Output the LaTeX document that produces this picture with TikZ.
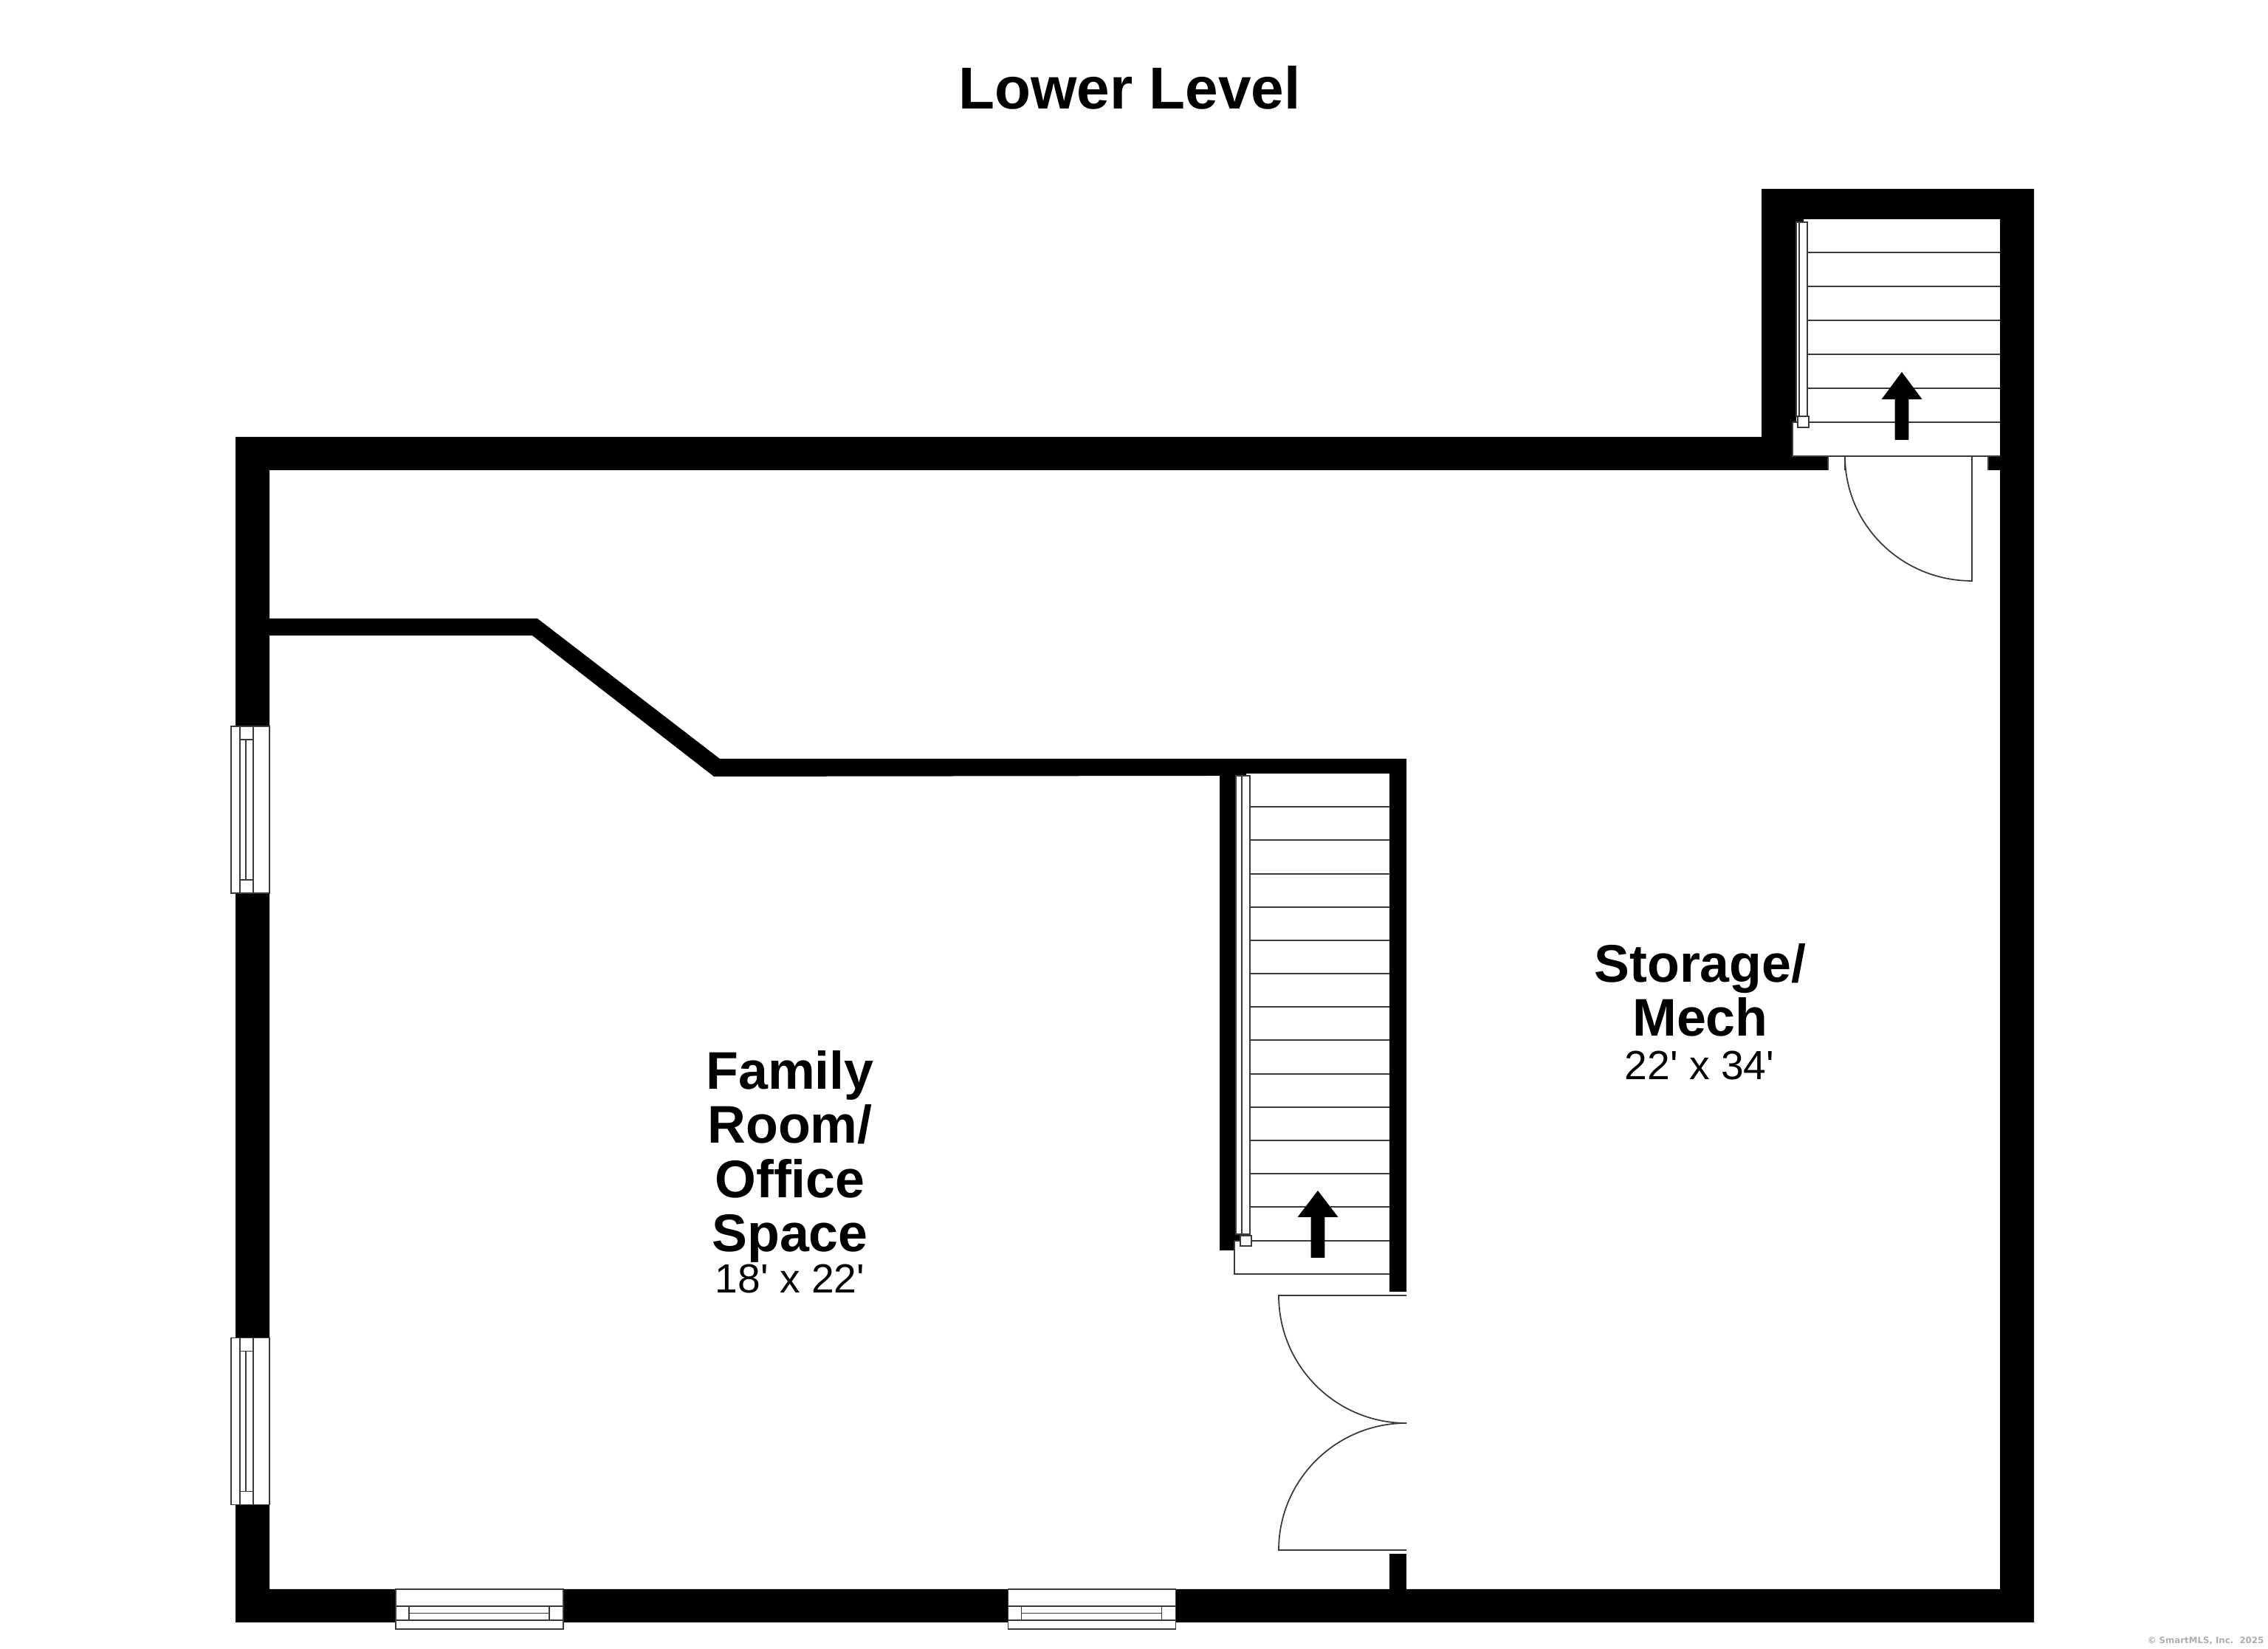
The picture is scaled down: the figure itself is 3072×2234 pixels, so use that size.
\documentclass[tikz,border=0pt]{standalone}
\usepackage{fontspec}
\setmainfont{Liberation Sans}
\newfontfamily\markfont{DejaVu Sans}
\usepackage{xcolor}
\usepackage{tikz}
\definecolor{thin}{HTML}{3A3A3A}
\definecolor{mark}{HTML}{ADADAD}
\tikzset{
  wall/.style={fill=black},
  thinline/.style={draw=thin, line width=0.5pt},
  paneline/.style={draw=thin, line width=0.5pt, fill=white},
  titlelab/.style={font=\bfseries\fontsize{22.8}{28}\selectfont},
  roomlab/.style={font=\bfseries\fontsize{20.4}{20.8}\selectfont, align=center},
  sizelab/.style={font=\fontsize{15.7}{18}\selectfont},
  marklab/.style={font=\markfont\bfseries\fontsize{3.35}{5}\selectfont, text=mark, anchor=east, inner sep=0pt},
}

\begin{document}
\begin{tikzpicture}[x=0.01cm,y=0.01cm]
\useasboundingbox (0,0) rectangle (3072,2234);
% outer walls
\fill[wall,even odd rule] (319,1642) -- (2386,1642) -- (2386,1978) -- (2755,1978) -- (2755,36) -- (319,36) -- cycle
  (365,1597) -- (2709,1597) -- (2709,81) -- (365,81) -- cycle
  (2443,1937) -- (2709,1937) -- (2709,1616) -- (2428,1616) -- (2428,1662) -- (2433,1662) -- (2433,1933) -- (2443,1933) -- cycle;
% inner walls
\fill[wall] (365,1396) -- (728,1396) -- (975,1206) -- (1905,1206) -- (1905,484) -- (1882,484) -- (1882,1186)
  -- (1688,1186) -- (1688,1183) -- (1674,1183) -- (1674,563) -- (1680,563) -- (1680,553) -- (1672,553) -- (1672,540)
  -- (1652,540) -- (1652,1183) -- (967,1182) -- (721,1373) -- (365,1373) -- cycle;
\fill[wall] (1882,129) rectangle (1905,81);

% lower stairs
\draw[thinline] (1693,1141) -- (1882,1141);
\draw[thinline] (1693,1096) -- (1882,1096);
\draw[thinline] (1693,1050) -- (1882,1050);
\draw[thinline] (1693,1005) -- (1882,1005);
\draw[thinline] (1693,960) -- (1882,960);
\draw[thinline] (1693,915) -- (1882,915);
\draw[thinline] (1693,870) -- (1882,870);
\draw[thinline] (1693,825) -- (1882,825);
\draw[thinline] (1693,779) -- (1882,779);
\draw[thinline] (1693,734) -- (1882,734);
\draw[thinline] (1693,689) -- (1882,689);
\draw[thinline] (1693,644) -- (1882,644);
\draw[thinline] (1693,599) -- (1882,599);
\draw[thinline] (1672,553) -- (1882,553);
\draw[thinline] (1672,553) -- (1672,508) -- (1882,508);
\draw[paneline] (1674,1183) rectangle (1693,562);
\draw[thinline] (1682,1183) -- (1682,562);
\draw[paneline] (1680,560) rectangle (1695,546);
\fill[wall] (1785,621) -- (1812.5,585) -- (1794.3,585) -- (1794.3,530) -- (1775.7,530) -- (1775.7,585) -- (1757.5,585) -- cycle;

% upper stairs
\draw[thinline] (2448,1892) -- (2709,1892);
\draw[thinline] (2448,1846) -- (2709,1846);
\draw[thinline] (2448,1800) -- (2709,1800);
\draw[thinline] (2448,1754) -- (2709,1754);
\draw[thinline] (2448,1708) -- (2709,1708);
\draw[thinline] (2428,1662) -- (2709,1662);
\draw[thinline] (2428,1662) -- (2428,1616) -- (2709,1616);
\draw[paneline] (2433,1933) rectangle (2448,1670);
\draw[thinline] (2437,1933) -- (2437,1670);
\draw[paneline] (2435,1670) rectangle (2450,1655);
\fill[wall] (2576,1730) -- (2603.5,1693) -- (2585.3,1693) -- (2585.3,1638) -- (2566.7,1638) -- (2566.7,1693) -- (2548.5,1693) -- cycle;

% upper door
\fill[white] (2476,1597) rectangle (2693,1616);
\draw[thinline] (2476,1597) -- (2476,1616) -- (2693,1616) -- (2693,1597);
\draw[thinline] (2499,1616) -- (2499,1597);
\draw[thinline] (2671,1616) -- (2671,1447) arc (270:180:172 and 169);

% double door
\draw[thinline] (1905,479) -- (1732,479) arc (180:270:173);
\draw[thinline] (1905,134) -- (1732,134) arc (180:90:173 and 172);

% side windows
\draw[paneline] (313,1250) rectangle (365,1024);
\draw[thinline] (325,1250) -- (325,1024);
\draw[thinline] (343,1250) -- (343,1024);
\draw[thinline] (325,1232) -- (343,1232);
\draw[thinline] (325,1042) -- (343,1042);
\draw[thinline] (333,1232) -- (333,1042);
\begin{scope}[yshift=-8.28cm]
\draw[paneline] (313,1250) rectangle (365,1024);
\draw[thinline] (325,1250) -- (325,1024);
\draw[thinline] (343,1250) -- (343,1024);
\draw[thinline] (325,1232) -- (343,1232);
\draw[thinline] (325,1042) -- (343,1042);
\draw[thinline] (333,1232) -- (333,1042);
\end{scope}

% bottom windows
\draw[paneline] (536,81) rectangle (763,27);
\draw[thinline] (536,58) -- (763,58);
\draw[thinline] (536,39) -- (763,39);
\draw[thinline] (554,58) -- (554,39);
\draw[thinline] (744,58) -- (744,39);
\draw[thinline] (554,48.5) -- (744,48.5);
\begin{scope}[xshift=8.29cm]
\draw[paneline] (536,81) rectangle (763,27);
\draw[thinline] (536,58) -- (763,58);
\draw[thinline] (536,39) -- (763,39);
\draw[thinline] (554,58) -- (554,39);
\draw[thinline] (744,58) -- (744,39);
\draw[thinline] (554,48.5) -- (744,48.5);
\end{scope}

\node[titlelab] (title) at (1530,2115) {Lower Level};
\node[roomlab] (familyname) at (1070,667) {Family\\Room/\\Office\\Space};
\node[sizelab] (familysize) at (1070,501) {18\textquotesingle{} x 22\textquotesingle};
\node[roomlab] (storagename) at (2303,893) {Storage/\\Mech};
\node[sizelab] (storagesize) at (2302,790) {22\textquotesingle{} x 34\textquotesingle};
\node[marklab] (copymark) at (3067,11) {© SmartMLS, Inc.\ \ 2025};
\end{tikzpicture}
\end{document}
